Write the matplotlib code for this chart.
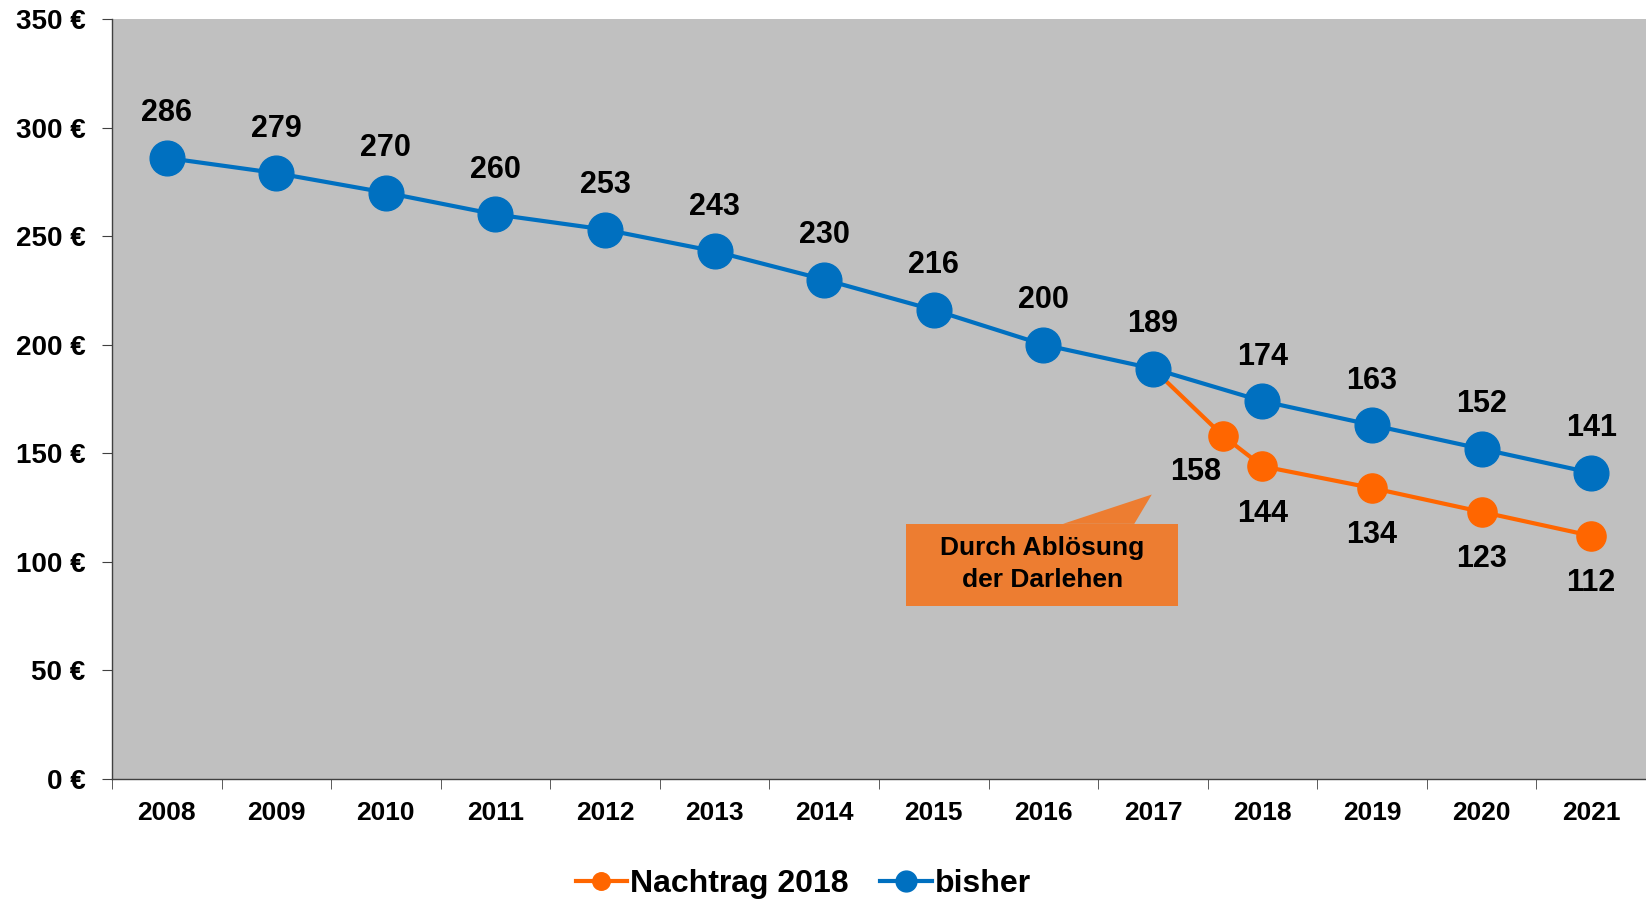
import matplotlib.pyplot as plt
from matplotlib.patches import Rectangle, Polygon
import numpy as np

plt.rcParams['font.family'] = ['Liberation Sans', 'DejaVu Sans']
plt.rcParams['font.weight'] = 'bold'

years = ["2008", "2009", "2010", "2011", "2012", "2013", "2014",
         "2015", "2016", "2017", "2018", "2019", "2020", "2021"]
bisher = [286, 279, 270, 260, 253, 243, 230, 216, 200, 189, 174, 163, 152, 141]

# Nachtrag 2018 starts at the 2017 value, with an extra point between 2017 and 2018
nachtrag_x = [9, 9.64, 10, 11, 12, 13]
nachtrag = [189, 158, 144, 134, 123, 112]

yticks = [0, 50, 100, 150, 200, 250, 300, 350]

blue = "#0070C0"
orange = "#FF6600"
box_color = "#ED7D31"

fig = plt.figure(figsize=(16.46, 9.01), dpi=100)
ax = fig.add_axes([0.068, 0.1354, 0.932, 0.8436])
ax.set_facecolor("#C0C0C0")

x = np.arange(len(years))
ax.plot(nachtrag_x, nachtrag, color=orange, lw=3, marker="o", ms=21,
        label="Nachtrag 2018", zorder=2)
ax.plot(x, bisher, color=blue, lw=3, marker="o", ms=25,
        label="bisher", zorder=3)

for xi, v in zip(x, bisher):
    ax.annotate(str(v), (xi, v), xytext=(0, 32), textcoords="offset points",
                ha="center", va="center", fontsize=22, fontweight="bold")

for xi, v in zip(nachtrag_x[1:], nachtrag[1:]):
    if v == 158:
        off = (-20, -26)
    else:
        off = (0, -34)
    ax.annotate(str(v), (xi, v), xytext=off, textcoords="offset points",
                ha="center", va="center", fontsize=22, fontweight="bold")

# callout: box with a pointer towards the 2017 drop
bx0, bx1, by0, by1 = 6.75, 9.23, 79.5, 117.5
ax.add_patch(Rectangle((bx0, by0), bx1 - bx0, by1 - by0, fc=box_color,
                       ec="none", zorder=4))
ax.add_patch(Polygon([(8.18, by1), (8.99, 131), (8.83, by1)], closed=True,
                     fc=box_color, ec="none", zorder=4))
ax.text((bx0 + bx1) / 2, (by0 + by1) / 2 + 0.5, "Durch Ablösung\nder Darlehen",
        ha="center", va="center", fontsize=19, fontweight="bold",
        linespacing=1.45, zorder=5)

ax.set_xlim(-0.5, 13.5)
ax.set_ylim(0, 350)
ax.set_yticks(yticks)
ax.set_yticklabels([f"{v} €" for v in yticks])
ax.set_xticks(x)
ax.set_xticklabels(years)
ax.set_xticks(np.arange(-0.5, 14, 1), minor=True)
ax.tick_params(axis="x", which="major", length=0, pad=16, labelsize=19)
ax.tick_params(axis="x", which="minor", length=7, color="#404040", direction="out")
ax.tick_params(axis="y", length=7, color="#404040", pad=12, labelsize=20)

for s in ["top", "right"]:
    ax.spines[s].set_visible(False)
for s in ["left", "bottom"]:
    ax.spines[s].set_color("#404040")
    ax.spines[s].set_linewidth(1)

fig.legend(loc="lower center", bbox_to_anchor=(0.488, -0.03), ncol=2,
           frameon=False, fontsize=23, handlelength=1.6, handletextpad=0.1,
           columnspacing=1.0, markerscale=0.6)

fig.savefig("out.png", dpi=100)
